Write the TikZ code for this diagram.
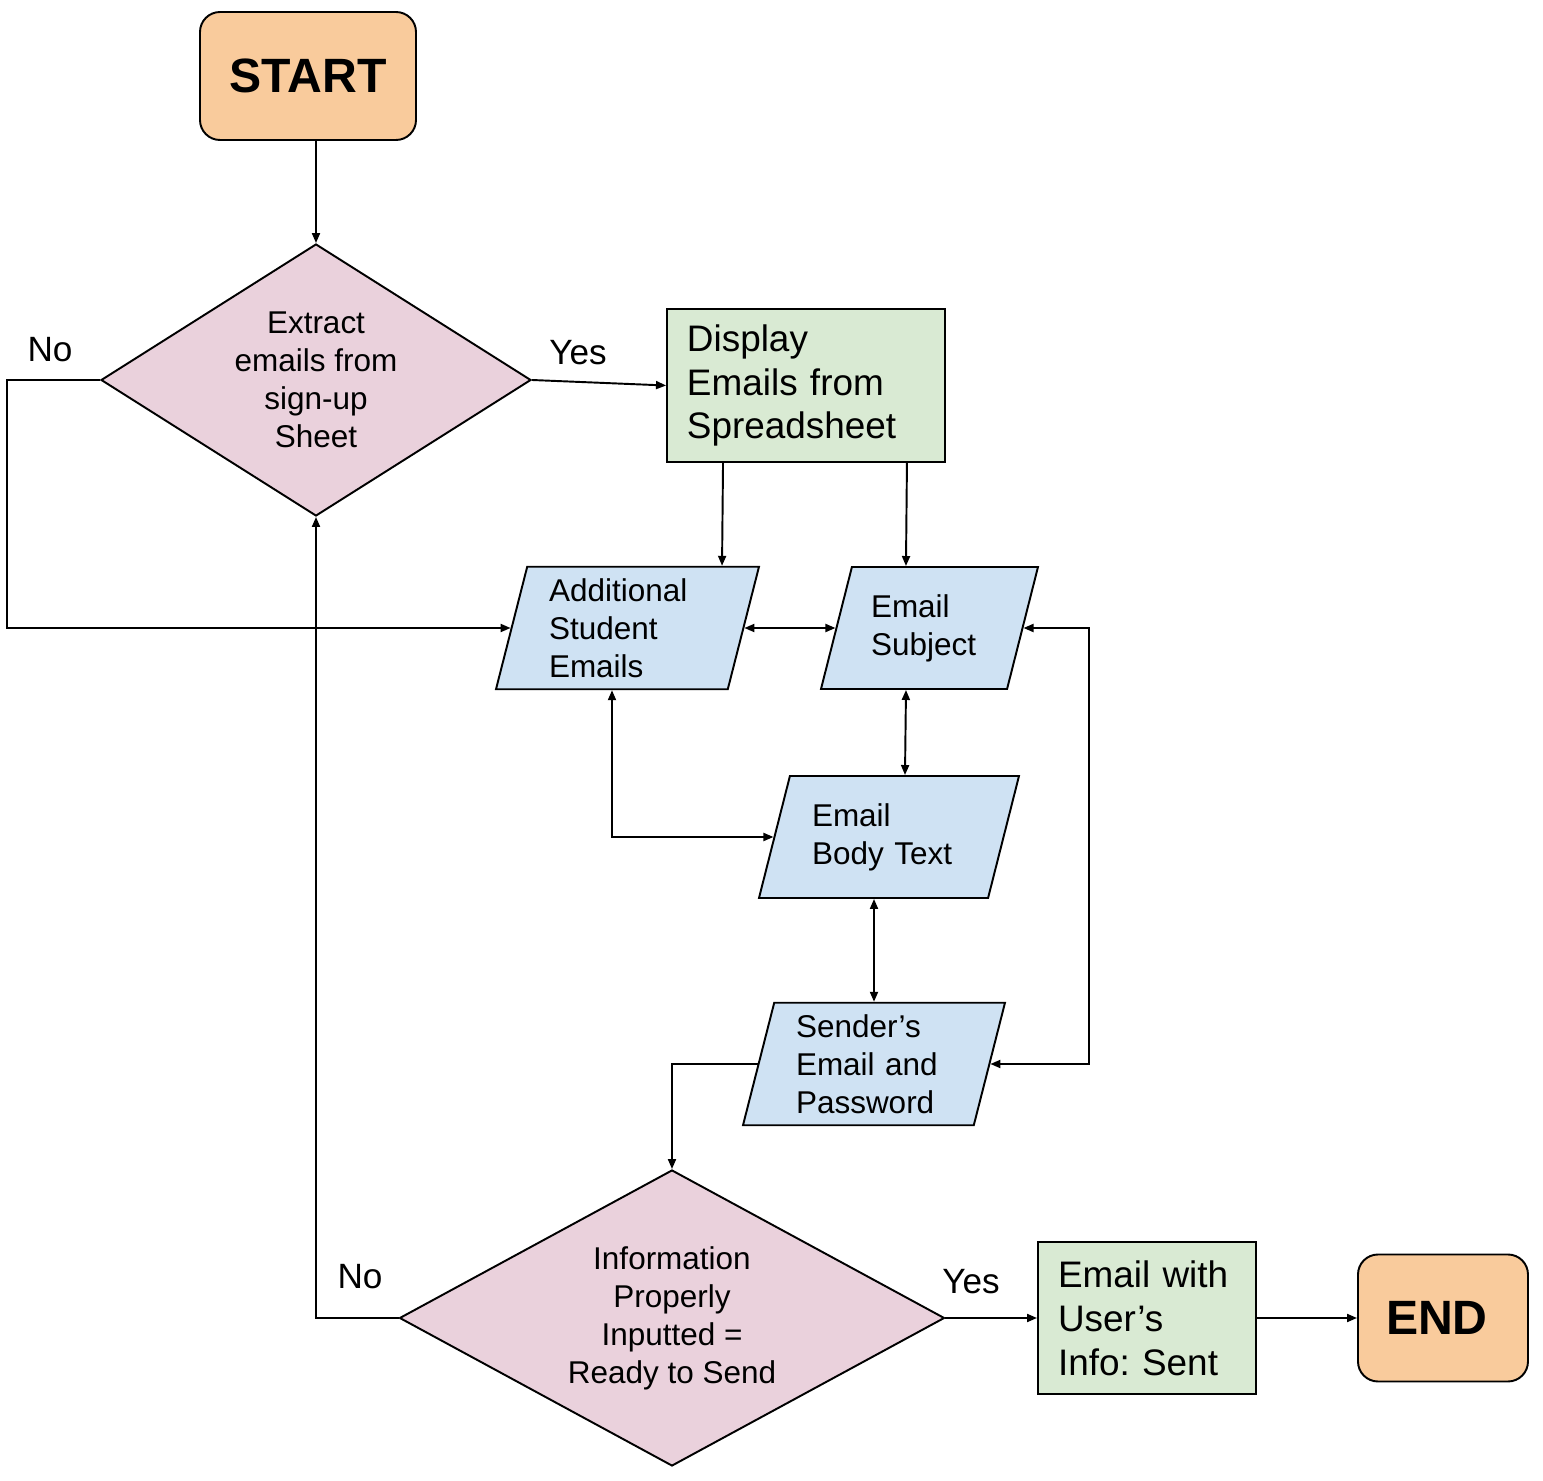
\documentclass[tikz,border=0pt]{standalone}
\usepackage{fontspec}
\setmainfont{Liberation Sans}
\usetikzlibrary{shapes.geometric,arrows.meta}
\definecolor{naranja}{HTML}{F9CB9C}
\definecolor{rosa}{HTML}{EAD1DC}
\definecolor{verde}{HTML}{D9EAD3}
\definecolor{azul}{HTML}{CFE2F3}
\frenchspacing

\begin{document}
\begin{tikzpicture}[
    line width=0.55pt,
    flecha/.style={-{Triangle[length=1mm,width=0.8mm]}},
    doble/.style={{Triangle[length=1mm,width=0.8mm]}-{Triangle[length=1mm,width=0.8mm]}},
    terminal/.style={draw, fill=naranja, rounded corners=0.2cm, font=\fontsize{13.7pt}{16pt}\selectfont\bfseries},
    decision/.style={draw, fill=rosa, diamond, inner sep=0pt, align=center, font=\fontsize{8.96pt}{10.8pt}\selectfont},
    proceso/.style={draw, fill=verde, inner xsep=0.2cm, align=left, font=\fontsize{10.5pt}{12.5pt}\selectfont},
    datos/.style={draw, fill=azul, trapezium, trapezium left angle=75.7, trapezium right angle=104.3,
        trapezium stretches body=true, inner xsep=0pt, minimum height=1.22cm, align=left,
        font=\fontsize{8.96pt}{10.8pt}\selectfont},
    etiqueta/.style={font=\fontsize{10pt}{12pt}\selectfont}
]
    \useasboundingbox (0,0) rectangle (15.43,-14.81);

    % Nodos
    \node[terminal, minimum width=2.16cm, minimum height=1.28cm] (start) at (3.08,-0.76) {START};
    \node[decision, minimum width=4.30cm, minimum height=2.72cm, aspect=1.58] (d1) at (3.16,-3.80)
        {Extract\\emails from\\sign-up\\Sheet};
    \node[proceso, minimum width=2.78cm, minimum height=1.53cm, text width=2.38cm] (disp) at (8.06,-3.855)
        {Display\\Emails from\\Spreadsheet};
    \node[datos, minimum width=2.63cm, text width=1.57cm] (add) at (6.275,-6.28)
        {Additional\\Student\\Emails};
    \node[datos, minimum width=2.17cm, text width=1.17cm, inner ysep=0.27cm] (subj) at (9.295,-6.28)
        {Email\\Subject};
    \node[datos, minimum width=2.60cm, text width=1.54cm, inner ysep=0.27cm] (body) at (8.89,-8.37)
        {Email\\Body Text};
    \node[datos, minimum width=2.62cm, text width=1.56cm] (send) at (8.74,-10.64)
        {Sender’s\\Email and\\Password};
    \node[decision, minimum width=5.45cm, minimum height=2.96cm, aspect=1.84] (d2) at (6.72,-13.18)
        {Information\\Properly\\Inputted =\\Ready to Send};
    \node[proceso, minimum width=2.18cm, minimum height=1.52cm, text width=1.78cm] (fin) at (11.47,-13.18)
        {Email with\\User’s\\Info: Sent};
    \node[terminal, minimum width=1.70cm, minimum height=1.27cm, inner xsep=0.28cm, text width=1.14cm, align=left]
        (end) at (14.43,-13.18) {END};

    % Flechas
    \draw[flecha] (start.south -| d1.north) -- (d1.north);
    \draw[flecha] (d1.east) -- (disp.west);
    \draw[flecha] (d1.west) -- ++(-0.93,0) |- (add.west);
    \draw[flecha] ([xshift=5.7mm]disp.south west) -- ([xshift=5.6mm]disp.south west |- add.north);
    \draw[flecha] ([xshift=-3.9mm]disp.south east) -- ([xshift=-4.0mm]disp.south east |- subj.north);
    \draw[doble] (add.east) -- (subj.west);
    \draw[doble] (9.06,0 |- subj.south) -- (9.05,0 |- body.north);
    \draw[doble] (6.12,0 |- add.south) |- (body.west);
    \draw[doble] (send.north |- body.south) -- (send.north);
    \draw[doble] (subj.east) -- ++(0.65,0) |- (send.east);
    \draw[flecha] (send.west) -| (d2.north);
    \draw[flecha] (d2.west) -| (d1.south);
    \draw[flecha] (d2.east) -- (fin.west);
    \draw[flecha] (fin.east) -- (end.west);

    % Etiquetas
    \node[etiqueta] (si1) at (5.78,-3.53) {Yes};
    \node[etiqueta] (no1) at (0.50,-3.50) {No};
    \node[etiqueta] (no2) at (3.60,-12.77) {No};
    \node[etiqueta] (si2) at (9.71,-12.82) {Yes};
\end{tikzpicture}
\end{document}
